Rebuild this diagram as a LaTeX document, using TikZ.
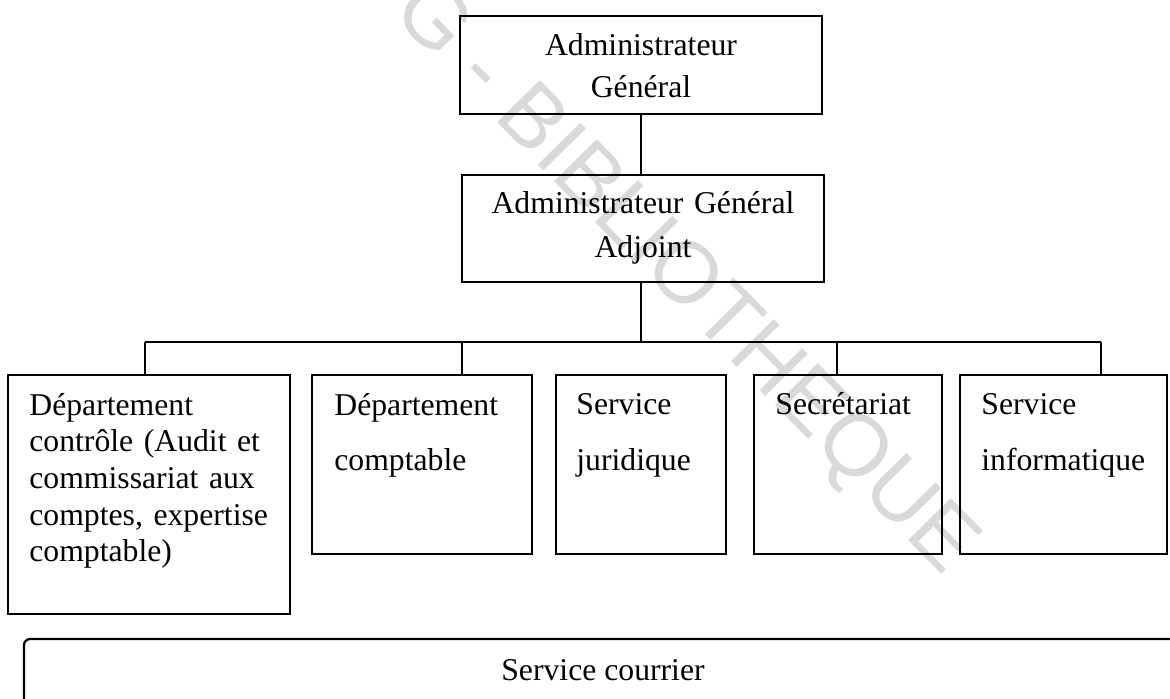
\documentclass[tikz,border=0pt]{standalone}
\usepackage{fontspec}
\setmainfont{Liberation Serif}
\newfontfamily\wmfont{Liberation Sans}
\usetikzlibrary{fit}
\begin{document}
\begin{tikzpicture}[x=0.5pt,y=-0.5pt,
  box/.style={draw, line width=1.1pt, inner sep=0pt},
  conn/.style={line width=0.9pt},
  txt/.style={inner sep=0pt, font=\fontsize{15.85}{18.35}\selectfont},
  wide/.style={font=\fontsize{15.85}{#1}\selectfont}
]
\useasboundingbox (0,0) rectangle (1170,698);
\clip (0,0) rectangle (1170,698);
% watermark
\node[rotate=-45.5, text=black!15, inner sep=0pt,
      font=\wmfont\fontsize{43.6}{43.6}\selectfont] (wm) at (683,280) {G - BIBLIOTHEQUE};
% boxes
\node[box, fit={(460,16) (822,114)}] (ag) {};
\node[box, fit={(462,175) (824,282)}] (aga) {};
\node[box, fit={(8,375) (290,614)}] (d1) {};
\node[box, fit={(312,375) (532,554)}] (d2) {};
\node[box, fit={(556,375) (726,554)}] (d3) {};
\node[box, fit={(754,375) (942,554)}] (d4) {};
\node[box, fit={(960,375) (1167,554)}] (d5) {};
\node[box, rounded corners=3pt, fit={(24,639) (1220,780)}] (sc) {};
% texts
\node[txt, wide=21pt, anchor=base, text width=170pt, align=center] (tag) at (641,55) {Administrateur\\Général};
\node[txt, wide=22pt, anchor=base, text width=170pt, align=center] (taga) at (643,213) {Administrateur Général\\Adjoint};
\node[txt, anchor=base west, text width=120.5pt, align=left] (td1) at (29,415)
  {Département\\
   \makebox[\linewidth][s]{contrôle (Audit et}\\
   \makebox[\linewidth][s]{commissariat aux}\\
   \makebox[\linewidth][s]{comptes, expertise}\\
   comptable)};
\node[txt, wide=27.5pt, anchor=base west, text width=95pt, align=left] (td2) at (334,415) {Département\\comptable};
\node[txt, wide=28pt, anchor=base west, text width=70pt, align=left] (td3) at (576,414) {Service\\juridique};
\node[txt, anchor=base west, align=left] (td4) at (775,414) {Secrétariat};
\node[txt, wide=28pt, anchor=base west, text width=85pt, align=left] (td5) at (981,414) {Service\\informatique};
\node[txt, anchor=base] (tsc) at (603,680) {Service courrier};
% connectors
\coordinate (j0) at (641,342);
\coordinate (j1) at (145,342);
\coordinate (j2) at (462,342);
\coordinate (j3) at (837,342);
\coordinate (j4) at (1101,342);
\draw[conn] (ag.south) -- (ag.south |- aga.north);
\draw[conn] (aga.south -| j0) -- (j0);
\draw[conn] (j1) -- (j4);
\draw[conn] (j1) -- (j1 |- d1.north);
\draw[conn] (j2) -- (j2 |- d2.north);
\draw[conn] (j3) -- (j3 |- d4.north);
\draw[conn] (j4) -- (j4 |- d5.north);
\end{tikzpicture}
\end{document}
